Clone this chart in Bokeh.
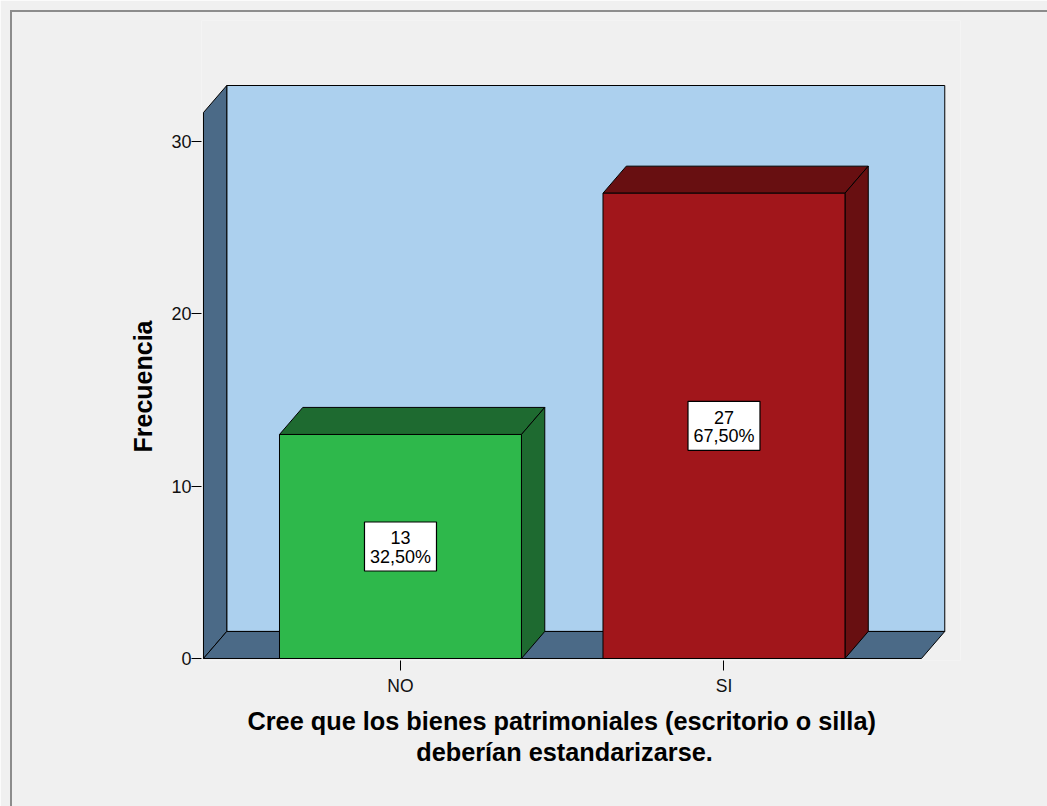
from bokeh.plotting import figure
from bokeh.models import ColumnDataSource, Range1d, FixedTicker, Title, InlineStyleSheet
from bokeh.embed import file_html
from bokeh.resources import INLINE
from bokeh.core.properties import value

# ---- data ----
categories = ["NO", "SI"]
counts = [13, 27]
percents = [32.5, 67.5]
y_ticks = [0, 10, 20, 30]
x_title_lines = ["Cree que los bienes patrimoniales (escritorio o silla)",
                 "deberían estandarizarse."]
y_title = "Frecuencia"

# ---- styles / geometry ----
front_colors = ["#2eb84b", "#a1161b"]
dark_colors = ["#1e6a30", "#680f11"]
WALL_BACK = "#acd0ee"
WALL_SIDE = "#4b6a87"
BG = "#f0f0f0"
FONT = "Liberation Sans"

BAR_W = 0.748
DX = 0.072
DY = 1.57
WALL_X0 = 0.391
WALL_X1 = 2.6105
WALL_TOP = 31.68

xpos = [i + 1 for i in range(len(categories))]

p = figure(width=1047, height=806,
           x_range=Range1d(0.3849, 2.7311), y_range=Range1d(-0.1161, 37.022),
           output_backend="svg", toolbar_location=None,
           min_border_left=201, min_border_right=87,
           min_border_top=20, min_border_bottom=146)
p.background_fill_color = BG
p.border_fill_color = BG
p.outline_line_color = None
p.xgrid.grid_line_color = None
p.ygrid.grid_line_color = None

# outer frame line of the chart window (left / top)
p.stylesheets = [InlineStyleSheet(css=(
    ":host::after { content: ''; position: absolute; left: 10px; top: 10px; "
    "right: 0; bottom: 0; border-left: 2px solid #8c8c8c; "
    "border-top: 2px solid #8c8c8c; pointer-events: none; }"))]

# ---- walls ----
p.quad(left=[WALL_X0 + DX], right=[WALL_X1 + DX], bottom=[DY], top=[WALL_TOP + DY],
       fill_color=WALL_BACK, line_color="black", line_width=1)
walls = ColumnDataSource(dict(
    xs=[[WALL_X0, WALL_X0, WALL_X0 + DX, WALL_X0 + DX],
        [WALL_X0, WALL_X0 + DX, WALL_X1 + DX, WALL_X1]],
    ys=[[0, WALL_TOP, WALL_TOP + DY, DY],
        [0, DY, DY, 0]],
))
p.patches("xs", "ys", source=walls, fill_color=WALL_SIDE, line_color="black", line_width=1)

# ---- bars ----
front = dict(left=[], right=[], top=[], bottom=[], color=[])
faces = dict(xs=[], ys=[], color=[])
for x, c, fc, dc in zip(xpos, counts, front_colors, dark_colors):
    l, r = x - BAR_W / 2, x + BAR_W / 2
    front["left"].append(l); front["right"].append(r)
    front["top"].append(c); front["bottom"].append(0); front["color"].append(fc)
    faces["xs"].append([l, l + DX, r + DX, r]); faces["ys"].append([c, c + DY, c + DY, c])
    faces["color"].append(dc)
    faces["xs"].append([r, r, r + DX, r + DX]); faces["ys"].append([0, c, c + DY, DY])
    faces["color"].append(dc)

p.patches("xs", "ys", source=ColumnDataSource(faces), fill_color="color",
          line_color="black", line_width=1)
p.quad(left="left", right="right", top="top", bottom="bottom",
       source=ColumnDataSource(front), fill_color="color", line_color="black", line_width=1)

# ---- value labels ----
mid = [c / 2 for c in counts]
p.rect(x=xpos, y=mid, width=72, height=49, width_units="screen", height_units="screen",
       fill_color="white", line_color="black", line_width=1.2)
p.text(x=xpos, y=mid, text=[str(c) for c in counts], y_offset=-8.5,
       text_align="center", text_baseline="middle", text_font=value(FONT),
       text_font_size="18px", text_color="black")
p.text(x=xpos, y=mid, text=[("%.2f" % v).replace(".", ",") + "%" for v in percents],
       y_offset=10.5, text_align="center", text_baseline="middle", text_font=value(FONT),
       text_font_size="18px", text_color="black")

# ---- axes ----
p.yaxis.ticker = FixedTicker(ticks=y_ticks)
p.yaxis.axis_line_color = None
p.yaxis.major_tick_out = 10
p.yaxis.major_tick_in = 0
p.yaxis.minor_tick_line_color = None
p.yaxis.major_tick_line_color = "black"
p.yaxis.major_label_standoff = 0
p.yaxis.major_label_text_font = FONT
p.yaxis.major_label_text_font_size = "18px"
p.yaxis.major_label_text_color = "#111111"

p.xaxis.ticker = FixedTicker(ticks=xpos)
p.xaxis.major_label_overrides = {x: n for x, n in zip(xpos, categories)}
p.xaxis.axis_line_color = None
p.xaxis.major_tick_out = 10
p.xaxis.major_tick_in = 0
p.xaxis.minor_tick_line_color = None
p.xaxis.major_tick_line_color = "black"
p.xaxis.major_label_standoff = 5
p.xaxis.major_label_text_font = FONT
p.xaxis.major_label_text_font_size = "17.5px"
p.xaxis.major_label_text_color = "#111111"

ty = Title(text=y_title, align="left", offset=208,
           text_font=FONT, text_font_size="25px", text_font_style="bold",
           text_color="black", standoff=23)
p.add_layout(ty, "left")

# two-line x title: second line centred under the first with non-breaking spaces
pad = "\u00a0" * 24
tx = Title(text=x_title_lines[0] + "\n" + pad + x_title_lines[1], align="left", offset=46,
           text_font=FONT, text_font_size="25.3px", text_font_style="bold",
           text_color="black", text_line_height=1.12, standoff=14)
p.add_layout(tx, "below")

open("out.html", "w").write(file_html(p, INLINE))
